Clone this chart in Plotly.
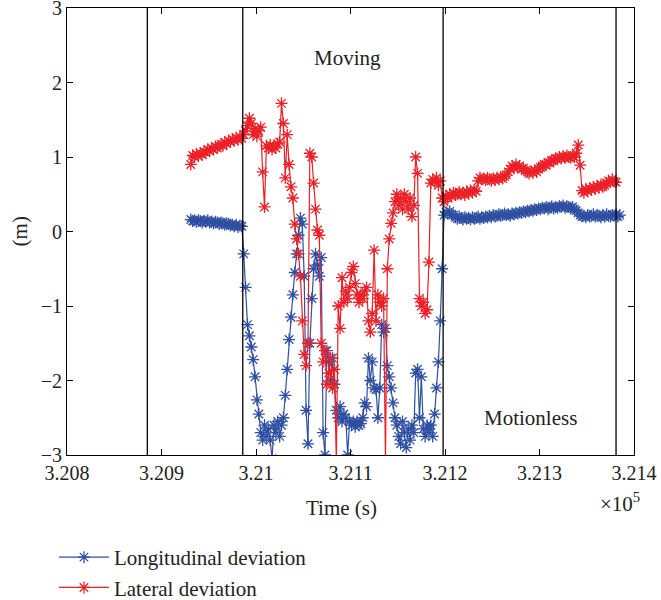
import plotly.graph_objects as go

# ---------------- data ----------------
t_start = 320931          # first sample time (s)
t_step = 2                # sample spacing (s)

longitudinal = [
    0.16, 0.14, 0.15, 0.13, 0.15, 0.14, 0.12, 0.14, 0.13, 0.15,
    0.12, 0.13, 0.11, 0.13, 0.12, 0.10, 0.12, 0.11, 0.09, 0.11,
    0.10, 0.08, 0.09, 0.07, 0.09, 0.06, 0.08, 0.07, -0.30, -0.75,
    -1.25, -1.40, -1.55, -1.72, -1.95, -2.26, -2.45, -2.70, -2.80, -2.60,
    -2.75, -2.65, -2.80, -3.05, -2.60, -2.70, -2.55, -2.75, -2.60, -2.50,
    -2.20, -1.85, -1.45, -1.15, -0.85, -0.55, -0.30, -0.05, 0.18, 0.10,
    -0.60, -2.40, -2.85, -1.50, -0.90, -0.50, -0.30, -0.45, -0.60, -0.35,
    -2.70, -3.00, -1.60, -1.75, -2.00, -1.70, -2.05, -2.40, -2.50, -2.35,
    -2.55, -2.45, -2.50, -3.00, -2.55, -2.60, -2.55, -2.62, -2.55, -2.60,
    -2.58, -2.50, -2.30, -2.35, -1.70, -2.00, -1.75, -2.10, -2.12, -2.50,
    -2.10, -1.25, -1.35, -1.30, -1.80, -1.95, -2.10, -2.30, -2.50, -2.60,
    -2.75, -2.85, -2.55, -2.70, -2.90, -2.65, -2.80, -2.60, -2.70, -1.90,
    -1.85, -2.50, -1.95, -2.65, -2.75, -2.60, -2.70, -2.60, -2.75, -2.45,
    -2.10, -1.75, -1.20, -0.50, 0.22, 0.26, 0.24, 0.27, 0.23, 0.22,
    0.19, 0.17, 0.20, 0.18, 0.16, 0.19, 0.17, 0.18, 0.16, 0.19,
    0.17, 0.18, 0.20, 0.17, 0.19, 0.18, 0.20, 0.19, 0.21, 0.19,
    0.22, 0.20, 0.21, 0.23, 0.21, 0.22, 0.24, 0.22, 0.23, 0.21,
    0.24, 0.23, 0.25, 0.24, 0.26, 0.25, 0.27, 0.26, 0.28, 0.27,
    0.29, 0.28, 0.30, 0.29, 0.31, 0.30, 0.32, 0.31, 0.33, 0.30,
    0.32, 0.34, 0.31, 0.33, 0.32, 0.34, 0.33, 0.35, 0.32, 0.34,
    0.33, 0.31, 0.33, 0.30, 0.28, 0.25, 0.22, 0.20, 0.21, 0.19,
    0.22, 0.20, 0.21, 0.23, 0.20, 0.22, 0.21, 0.19, 0.22, 0.20,
    0.23, 0.21, 0.20, 0.22, 0.21, 0.23, 0.20, 0.22,
]

lateral = [
    0.90, 1.02, 1.00, 1.04, 1.01, 1.05, 1.03, 1.07, 1.06, 1.10,
    1.08, 1.12, 1.10, 1.14, 1.12, 1.15, 1.17, 1.15, 1.20, 1.18,
    1.22, 1.20, 1.24, 1.22, 1.26, 1.23, 1.27, 1.25, 1.30, 1.35,
    1.42, 1.52, 1.45, 1.30, 1.38, 1.28, 1.35, 1.40, 0.80, 0.33,
    1.15, 1.12, 1.16, 1.10, 1.14, 1.12, 1.18, 1.20, 1.72, 1.45,
    0.72, 1.30, 0.90, 0.60, 0.45, 0.10, -0.10, -0.30, -0.60, -1.20,
    -1.65, -1.80, -1.50, 1.05, 1.00, 0.65, 0.30, 0.02, -0.05, -1.50,
    -1.75, -1.60, -2.05, -1.90, -1.70, -2.10, -1.85, -3.10, -1.00, -1.30,
    -0.62, -0.95, -0.80, -0.90, -0.75, -0.55, -0.47, -0.70, -0.85, -0.95,
    -0.85, -0.90, -0.80, -0.75, -1.20, -1.35, -1.10, -0.25, -1.20, -0.85,
    -0.95, -1.00, -0.90, -3.10, -0.50, -0.10, 0.11, 0.25, 0.40, 0.50,
    0.35, 0.45, 0.30, 0.50, 0.40, 0.30, 0.45, 0.20, 0.35, 1.00,
    0.78, -0.90, -1.00, -0.95, -1.10, -1.05, -0.41, 0.65, 0.70, 0.68,
    0.72, 0.62, 0.68, 0.45, 0.40, 0.48, 0.45, 0.50, 0.47, 0.52,
    0.49, 0.50, 0.53, 0.50, 0.52, 0.49, 0.54, 0.51, 0.55, 0.52,
    0.56, 0.54, 0.68, 0.72, 0.70, 0.71, 0.69, 0.72, 0.70, 0.68,
    0.71, 0.69, 0.72, 0.70, 0.73, 0.71, 0.74, 0.76, 0.80, 0.84,
    0.88, 0.85, 0.90, 0.86, 0.88, 0.84, 0.85, 0.82, 0.80, 0.78,
    0.81, 0.79, 0.82, 0.80, 0.84, 0.86, 0.88, 0.90, 0.89, 0.93,
    0.92, 0.95, 0.96, 0.98, 0.97, 1.00, 0.98, 1.01, 0.99, 1.02,
    1.00, 0.99, 1.01, 1.00, 1.05, 1.16, 0.89, 0.55, 0.52, 0.57,
    0.54, 0.58, 0.56, 0.60, 0.57, 0.61, 0.59, 0.63, 0.60, 0.62,
    0.65, 0.68, 0.66, 0.70, 0.67, 0.66, None, None,
]

phase_boundaries = [320885, 320986, 321198, 321381]   # vertical lines (s)
x_tick_vals = [320800, 320900, 321000, 321100, 321200, 321300, 321400]
x_tick_text = ["3.208", "3.209", "3.21", "3.211", "3.212", "3.213", "3.214"]
y_tick_vals = [-3, -2, -1, 0, 1, 2, 3]
labels = [("Moving", 321097, 2.33), ("Motionless", 321291, -2.5)]

if len(longitudinal) != len(lateral):
    raise SystemExit(f"length mismatch {len(longitudinal)} {len(lateral)}")

times = [t_start + t_step * i for i in range(len(longitudinal))]

BLUE = "#2f4fa2"
RED = "#ec2027"
FONT = "Liberation Serif"
TXT = "#222"

fig = go.Figure()
for name, vals, col in [("Longitudinal deviation", longitudinal, BLUE),
                        ("Lateral deviation", lateral, RED)]:
    fig.add_trace(go.Scatter(
        x=times, y=vals, name=name, mode="lines+markers",
        line=dict(color=col, width=1.2),
        marker=dict(symbol="asterisk-open", size=10, color=col,
                    line=dict(color=col, width=1.3)),
        connectgaps=False,
    ))

for b in phase_boundaries:
    fig.add_shape(type="line", xref="x", yref="y", x0=b, x1=b, y0=-3, y1=3,
                  line=dict(color="black", width=1.3))

for txt, xv, yv in labels:
    fig.add_annotation(x=xv, y=yv, xref="x", yref="y", text=txt,
                       showarrow=False, font=dict(family=FONT, size=21, color=TXT))

# exponent label and axis titles
fig.add_annotation(xref="paper", yref="paper", x=1.014, y=-0.107, xanchor="right",
                   yanchor="middle", text="×10<sup>5</sup>", showarrow=False,
                   font=dict(family=FONT, size=21, color=TXT))
fig.add_annotation(xref="paper", yref="paper", x=0.485, y=-0.118, xanchor="center",
                   yanchor="middle", text="Time (s)", showarrow=False,
                   font=dict(family=FONT, size=21, color=TXT))
fig.add_annotation(xref="paper", yref="paper", x=-0.083, y=0.5, xanchor="center",
                   yanchor="middle", text="(m)", textangle=-90, showarrow=False,
                   font=dict(family=FONT, size=21, color=TXT))

axis_common = dict(showline=True, linecolor="black", linewidth=1, mirror="allticks",
                   ticks="inside", ticklen=6, tickcolor="black", showgrid=False,
                   zeroline=False, automargin=False, ticklabeloverflow="allow",
                   tickfont=dict(family=FONT, size=20, color=TXT))

fig.update_xaxes(range=[320800, 321400], tickvals=x_tick_vals, ticktext=x_tick_text,
                 **axis_common)
fig.update_yaxes(range=[-3, 3], tickvals=y_tick_vals, **axis_common)

fig.update_layout(
    width=661, height=600,
    margin=dict(l=67, r=27, t=8, b=145, autoexpand=False),
    plot_bgcolor="white", paper_bgcolor="white",
    font=dict(family=FONT, size=21, color=TXT),
    legend=dict(x=-0.023, y=-0.1834, xanchor="left", yanchor="top",
                orientation="v", bgcolor="rgba(0,0,0,0)", itemwidth=50,
                font=dict(family=FONT, size=21, color=TXT),
                tracegroupgap=0),
    showlegend=True,
)

fig.write_html(
    "out.html",
    config={"displayModeBar": False},
    post_script="document.body.style.margin='0';document.body.style.overflow='hidden';",
)
